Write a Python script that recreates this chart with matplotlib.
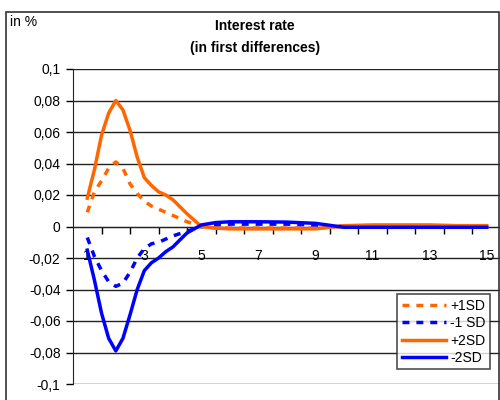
import numpy as np
import matplotlib
matplotlib.use('Agg')
import matplotlib.pyplot as plt
from matplotlib.patches import Rectangle

plt.rcParams['font.family'] = ['Liberation Sans', 'DejaVu Sans']

# periods (finer steps where the curves bend)
periods = [1, 1.25, 1.5, 1.75, 2, 2.25, 2.5, 2.75, 3, 3.25, 3.5, 3.75, 4, 4.5, 5,
           5.5, 6, 7, 8, 9, 10, 11, 12, 13, 14, 15]

plus1sd = [0.009, 0.022, 0.029, 0.037, 0.041, 0.037, 0.027, 0.021, 0.016, 0.013, 0.011,
           0.009, 0.007, 0.003, 0.0, -0.001, -0.001, -0.001, -0.001, -0.001, 0.0,
           0.0005, 0.0005, 0.0005, 0.0005, 0.0005]
minus1sd = [-0.007, -0.019, -0.028, -0.035, -0.038, -0.036, -0.029, -0.020, -0.014, -0.011,
            -0.010, -0.008, -0.006, -0.003, 0.0, 0.001, 0.0015, 0.0015, 0.0015, 0.001, 0.0,
            -0.0003, -0.0003, -0.0003, -0.0003, -0.0003]
plus2sd = [0.018, 0.036, 0.058, 0.072, 0.080, 0.074, 0.061, 0.044, 0.031, 0.026, 0.022,
           0.020, 0.017, 0.008, 0.0, -0.001, -0.0015, -0.0015, -0.0015, -0.0015, 0.0005,
           0.001, 0.001, 0.001, 0.0005, 0.0005]
minus2sd = [-0.015, -0.034, -0.055, -0.071, -0.079, -0.071, -0.056, -0.040, -0.028, -0.023,
            -0.020, -0.016, -0.013, -0.004, 0.001, 0.0025, 0.003, 0.003, 0.0028, 0.002,
            -0.0005, -0.0005, -0.0005, -0.0005, -0.0005, -0.0005]

y_ticks = [-0.1, -0.08, -0.06, -0.04, -0.02, 0, 0.02, 0.04, 0.06, 0.08, 0.1]
y_labels = ['-0,1', '-0,08', '-0,06', '-0,04', '-0,02', '0', '0,02', '0,04', '0,06', '0,08', '0,1']
x_labels = [1, 3, 5, 7, 9, 11, 13, 15]

orange = '#FF6600'
blue = '#0000FF'

fig = plt.figure(figsize=(5, 4), dpi=100)
ax = fig.add_axes([0.146, 0.04, 0.856, 0.7875])

# outer chart frame (bottom runs off the image)
fig.patches.append(Rectangle((0.012, -0.05), 0.986, 1.02, transform=fig.transFigure,
                             fill=False, ec='#333333', lw=1.2, zorder=10))

for yv in y_ticks:
    ax.axhline(yv, color='#222222', lw=1.0, zorder=1)

ax.plot(periods, plus1sd, color=orange, lw=2.5, ls=(0, (2, 2)), label='+1SD', zorder=3)
ax.plot(periods, minus1sd, color=blue, lw=2.5, ls=(0, (2, 2)), label='-1 SD', zorder=3)
ax.plot(periods, plus2sd, color=orange, lw=2.5, label='+2SD', zorder=4)
ax.plot(periods, minus2sd, color=blue, lw=2.5, label='-2SD', zorder=4)

ax.set_xlim(0.5, 15.5)
ax.set_ylim(-0.1, 0.1)
ax.set_yticks(y_ticks)
ax.set_yticklabels(y_labels, fontsize=10)
ax.tick_params(axis='y', length=5, width=1, pad=4)

ax.spines['bottom'].set_position(('data', 0))
ax.spines['top'].set_visible(False)
ax.spines['right'].set_visible(False)
ax.spines['left'].set_color('#222222')
ax.spines['bottom'].set_color('#222222')

ax.set_xticks(np.arange(1.5, 15.5, 1))
ax.set_xticklabels([])
ax.set_xticks(x_labels, minor=True)
ax.set_xticklabels([str(v) for v in x_labels], minor=True, fontsize=10)
ax.tick_params(axis='x', which='major', length=5, width=1, direction='out')
ax.tick_params(axis='x', which='minor', length=0, pad=16)

leg = ax.legend(loc='lower right', bbox_to_anchor=(0.99, 0.025), fontsize=10,
                frameon=True, fancybox=False, edgecolor='#222222', handlelength=3.2,
                borderpad=0.3, labelspacing=0.25, handletextpad=0.3)
leg.get_frame().set_linewidth(1.2)

fig.text(0.51, 0.935, 'Interest rate', ha='center', va='center', fontsize=10, fontweight='bold')
fig.text(0.51, 0.88, '(in first differences)', ha='center', va='center', fontsize=10,
         fontweight='bold')
fig.text(0.02, 0.945, 'in %', ha='left', va='center', fontsize=10)

fig.savefig('out.png', dpi=100)
